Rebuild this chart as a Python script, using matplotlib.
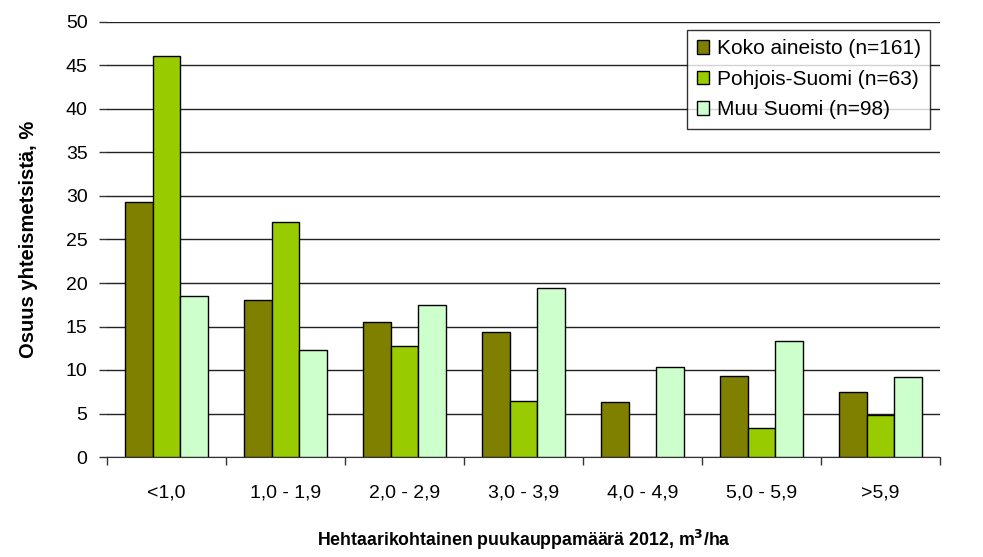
import matplotlib
matplotlib.use("Agg")
import matplotlib.pyplot as plt
import numpy as np

categories = ["<1,0", "1,0 - 1,9", "2,0 - 2,9", "3,0 - 3,9", "4,0 - 4,9", "5,0 - 5,9", ">5,9"]
koko = [29.3, 18.1, 15.5, 14.4, 6.3, 9.3, 7.5]
pohjois = [46.1, 27.0, 12.8, 6.4, 0.0, 3.3, 4.8]
muu = [18.5, 12.3, 17.5, 19.4, 10.3, 13.3, 9.2]
series_names = ["Koko aineisto (n=161)", "Pohjois-Suomi (n=63)", "Muu Suomi (n=98)"]
colors = ["#808000", "#99CC00", "#CCFFCC"]
yticks = list(range(0, 51, 5))

plt.rcParams['font.family'] = ['Liberation Sans', 'DejaVu Sans']

fig = plt.figure(figsize=(9.83, 5.57), dpi=100)
ax = fig.add_axes([107/983, 1 - 457/557, (940-107)/983, (457-22)/557])

x = np.arange(len(categories))
w = 0.235
for i, (vals, name, c) in enumerate(zip([koko, pohjois, muu], series_names, colors)):
    ax.bar(x + (i - 1) * w, vals, width=w, color=c, edgecolor="black", linewidth=1.0,
           label=name, zorder=3)

ax.set_xlim(-0.5, len(categories) - 0.5)
ax.set_ylim(0, 50)
ax.set_yticks(yticks)
ax.set_yticklabels([str(t) for t in yticks], fontsize=14)
ax.yaxis.grid(True, color="#222222", linewidth=1.0, zorder=0)
ax.set_axisbelow(True)

ax.set_xticks(x)
ax.set_xticklabels(categories, fontsize=14)
ax.tick_params(axis="x", which="major", length=0, pad=20)
ax.set_xticks(np.arange(-0.5, len(categories), 1.0), minor=True)
ax.tick_params(axis="x", which="minor", length=6, width=1, color="#333333", direction="out")
ax.tick_params(axis="y", length=6, width=1, color="#333333", pad=8)

for s in ["top", "right", "left"]:
    ax.spines[s].set_visible(False)
ax.spines["bottom"].set_color("#333333")

ax.set_ylabel("Osuus yhteismetsistä, %", fontsize=14.5, fontweight="bold", labelpad=20)
ax.set_xlabel("Hehtaarikohtainen puukauppamäärä 2012, m$^\\mathbf{3}$/ha", fontsize=12.8,
              fontweight="bold", labelpad=19)

leg = ax.legend(loc="upper right", bbox_to_anchor=(930/983, 1 - 30/557), bbox_transform=fig.transFigure,
                fontsize=15, frameon=True, fancybox=False, edgecolor="black",
                handlelength=0.6, handleheight=0.6, handletextpad=0.35, borderpad=0.45,
                labelspacing=0.55, borderaxespad=0)
leg.get_frame().set_linewidth(1.0)

fig.savefig("out.png", dpi=100)
